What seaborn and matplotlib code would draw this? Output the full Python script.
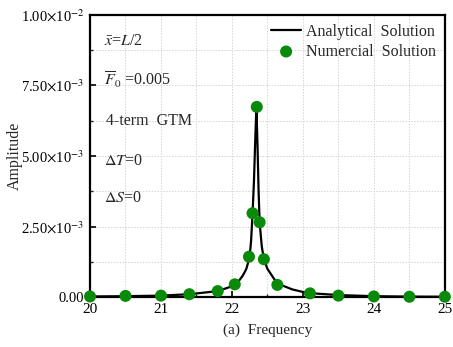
import matplotlib
matplotlib.use("Agg")
import matplotlib.pyplot as plt
import seaborn as sns
import pandas as pd
from matplotlib.ticker import MultipleLocator

# Analytical frequency response (amplitude vs. frequency)
line_freq = [20.0, 20.5, 21.0, 21.4, 21.8, 22.0, 22.1, 22.15, 22.2, 22.22, 22.25, 22.27,
             22.29, 22.31, 22.33, 22.345, 22.36, 22.375, 22.39, 22.42, 22.45, 22.5,
             22.6, 22.7, 22.85, 23.0, 23.2, 23.5, 24.0, 24.5, 25.0]
line_amp = [2e-5, 3e-5, 5e-5, 1.0e-4, 2.1e-4, 3.8e-4, 5.8e-4, 7.5e-4, 9.8e-4, 1.15e-3, 1.45e-3, 2.0e-3,
            2.95e-3, 4.1e-3, 5.7e-3, 6.74e-3, 5.4e-3, 3.8e-3, 2.65e-3, 1.8e-3, 1.34e-3, 1.0e-3,
            6.2e-4, 4.2e-4, 2.7e-4, 1.8e-4, 1.2e-4, 7e-5, 3e-5, 1.5e-5, 1e-5]

# Numerical solution samples
num_freq = [20.0, 20.5, 21.0, 21.4, 21.8, 22.04, 22.24, 22.29, 22.35, 22.39, 22.45, 22.64,
            23.1, 23.5, 24.0, 24.5, 25.0]
num_amp = [2e-5, 4e-5, 5e-5, 1.0e-4, 2.1e-4, 4.5e-4, 1.43e-3, 2.97e-3, 6.74e-3, 2.65e-3, 1.34e-3, 4.3e-4,
           1.3e-4, 5e-5, 2e-5, 1e-5, 1e-5]

x_ticks = [20, 21, 22, 23, 24, 25]
y_ticks = [0.0, 2.5e-3, 5.0e-3, 7.5e-3, 1.0e-2]
y_tick_labels = ["0.00", r"2.50$\times$10$^{-3}$", r"5.00$\times$10$^{-3}$",
                 r"7.50$\times$10$^{-3}$", r"1.00$\times$10$^{-2}$"]

sns.set_theme(style="ticks")
plt.rcParams["font.family"] = ["Liberation Serif", "DejaVu Serif"]
plt.rcParams["mathtext.fontset"] = "stix"
plt.rcParams["font.size"] = 10

fig = plt.figure(figsize=(4.53, 3.47), dpi=100)
ax = fig.add_axes([0.1987, 0.144, 0.7833, 0.813])

line_df = pd.DataFrame({"Frequency": line_freq, "Amplitude": line_amp})
num_df = pd.DataFrame({"Frequency": num_freq, "Amplitude": num_amp})

sns.lineplot(data=line_df, x="Frequency", y="Amplitude", ax=ax, color="black",
             linewidth=1.6, label="Analytical  Solution", sort=False, zorder=3)
sns.scatterplot(data=num_df, x="Frequency", y="Amplitude", ax=ax, color="#0a8a0a",
                s=75, edgecolor="none", label="Numercial  Solution", zorder=4, clip_on=False)

ax.set_xlim(20, 25)
ax.set_ylim(0, 1.0e-2)
ax.set_xticks(x_ticks)
ax.set_xticklabels([str(t) for t in x_ticks])
ax.set_yticks(y_ticks)
ax.set_yticklabels(y_tick_labels)
ax.xaxis.set_minor_locator(MultipleLocator(0.5))
ax.yaxis.set_minor_locator(MultipleLocator(1.25e-3))

ax.grid(which="both", color="#d4d4d4", linestyle=(0, (1.5, 1.5)), linewidth=0.7)
ax.set_axisbelow(True)

for s in ax.spines.values():
    s.set_visible(True)
    s.set_linewidth(1.6)
    s.set_color("black")

ax.tick_params(which="major", direction="in", length=4, width=1.2, labelsize=10.5,
               colors="black", pad=4, top=False, right=False)
ax.tick_params(axis="x", which="major", labelsize=11)
ax.tick_params(which="minor", direction="in", length=2.5, width=1.0, top=False, right=False)

ax.set_xlabel("(a)  Frequency", fontsize=11, labelpad=6)
ax.set_ylabel("Amplitude", fontsize=11.5)
ax.yaxis.set_label_coords(-0.19, 0.5)

leg = ax.legend(loc="upper right", frameon=False, fontsize=11.5, handlelength=1.9,
                handletextpad=0.3, borderaxespad=0.15, labelspacing=0.25,
                bbox_to_anchor=(1.0, 1.0))

txt_kw = dict(transform=ax.transAxes, fontsize=11.5, ha="left", va="center")
ax.text(0.04, 0.907, r"$\bar{x}$=$L$/2", **txt_kw)
ax.text(0.04, 0.77, r"$\overline{F}_0$ =0.005", **txt_kw)
ax.text(0.045, 0.625, "4-term  GTM", **txt_kw)
ax.text(0.04, 0.483, r"$\mathit{\Delta T}$=0", **txt_kw)
ax.text(0.04, 0.35, r"$\mathit{\Delta S}$=0", **txt_kw)

fig.savefig("out.png", dpi=100)
